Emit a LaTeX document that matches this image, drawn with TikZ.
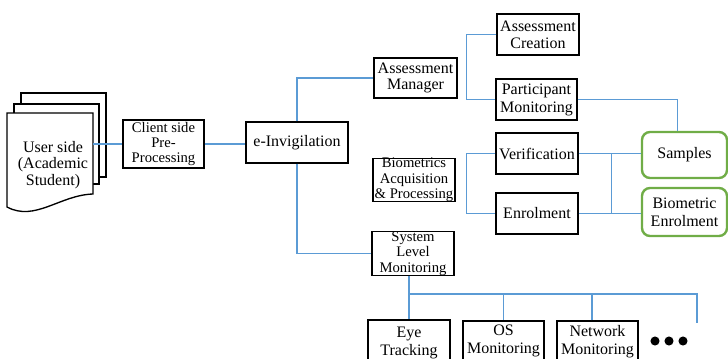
\documentclass[tikz,border=0pt]{standalone}
\usepackage{fontspec}
\setmainfont{Liberation Serif}
\definecolor{wireblue}{RGB}{91,155,213}
\definecolor{leafgreen}{RGB}{112,173,71}
\begin{document}
\begin{tikzpicture}[x=0.75pt,y=-0.75pt,
  blk/.style={draw=black, line width=0.9pt, fill=white, inner sep=0pt, align=center,
    font={\fontsize{12}{#1}\selectfont\lineskiplimit=-20pt\relax}},
  blk/.default=10,
  tightblk/.style={blk, font={\fontsize{11}{#1}\selectfont\lineskiplimit=-20pt\relax}},
  tightblk/.default=11.5,
  gbox/.style={draw=leafgreen, line width=1.8pt, rounded corners=6pt, fill=white, inner sep=0pt, align=center,
    font={\fontsize{12}{#1}\selectfont\lineskiplimit=-20pt\relax}},
  gbox/.default=13.5,
  wire/.style={draw=wireblue, line width=1.1pt},
  page/.style={draw=black, line width=1pt, fill=white}]
\useasboundingbox (0,0) rectangle (728,358);
\clip (0,0) rectangle (728,358);

% stacked documents
\draw[page] (21,93) rectangle (106,177);
\draw[page] (14,104) rectangle (99,184);
\draw[page] (7,113) -- (93,113) -- (93,194) .. controls (60,195) and (35,222) .. (7,207) -- cycle;
\node[inner sep=0pt, minimum width=60pt, align=center,
  font={\fontsize{12}{12.5}\selectfont\lineskiplimit=-20pt\relax}] (usr) at (53,165)
  {User side\\(Academic\\Student)};

% main chain
\node[tightblk, minimum width=60.75pt, minimum height=36pt] (cl) at (163.5,144) {Client side\\Pre-\\Processing};
\node[blk, minimum width=76.5pt, minimum height=30.75pt] (ei) at (297,142.5) {e-Invigilation};

% second level
\node[blk=12.5, minimum width=62.25pt, minimum height=30pt] (am) at (415.5,78) {Assessment\\Manager};
\node[tightblk, minimum width=61.5pt, minimum height=31.5pt] (bio) at (414,180) {Biometrics\\Acquisition\\\& Processing};
\node[tightblk, minimum width=61.5pt, minimum height=30.75pt] (slm) at (413,253.5) {System\\Level\\Monitoring};

% third level
\node[blk=12.5, minimum width=61.5pt, minimum height=30.75pt] (ac) at (538,34.5) {Assessment\\Creation};
\node[blk=13.5, minimum width=60.75pt, minimum height=30.75pt] (pm) at (536.5,99.5) {Participant\\Monitoring};
\node[blk, minimum width=61.5pt, minimum height=30.75pt] (ver) at (537,153.5) {Verification};
\node[blk, minimum width=61.5pt, minimum height=30.75pt] (enr) at (537,213.5) {Enrolment};

% data stores
\node[gbox, minimum width=63.75pt, minimum height=34.5pt] (sam) at (684.5,155) {Samples};
\node[gbox=13.5, minimum width=63.75pt, minimum height=36pt] (be) at (684.5,212) {Biometric\\Enrolment};

% monitoring modules
\node[blk=14, minimum width=61.5pt, minimum height=34.5pt] (eye) at (409,343) {Eye\\Tracking};
\node[blk=13.5, minimum width=60.75pt, minimum height=30pt] (os) at (503.5,341) {OS\\Monitoring};
\node[blk=13.5, minimum width=60.75pt, minimum height=30.75pt] (nm) at (597.5,341.5) {Network\\Monitoring};

% connectors
\draw[wire] (usr.east |- cl.west) -- (cl.west);
\draw[wire] (cl.east) -- (cl.east -| ei.west);
\draw[wire] (ei.north) |- (am.west);
\draw[wire] (ei.south) |- (slm.west);
\draw[wire] (ac.west) -- ++(-30,0) |- (pm.west);
\draw[wire] (pm.east) -| ([xshift=-5.25pt]sam.north);
\draw[wire] (ver.west) -- ++(-29,0) |- (enr.west);
\draw[wire] (ver.east) -- (ver.east -| sam.west);
\draw[wire] (enr.east) -- (enr.east -| be.west);
\draw[wire] ([xshift=24.75pt]ver.east) -- ([xshift=24.75pt]enr.east);

\coordinate (busend) at (697,294);
\coordinate (more) at (697,323);
\draw[wire] (slm.south -| eye.north) -- (eye.north);
\draw[wire] (eye.north |- busend) -- (busend) -- (more);
\draw[wire] (os.north |- busend) -- (os.north);
\draw[wire] ([xshift=-4pt]nm.north) -- ++(0,-27);

% ellipsis
\fill (655,341) circle (3.4pt);
\fill (669,341) circle (3.4pt);
\fill (683,341) circle (3.4pt);
\end{tikzpicture}
\end{document}
